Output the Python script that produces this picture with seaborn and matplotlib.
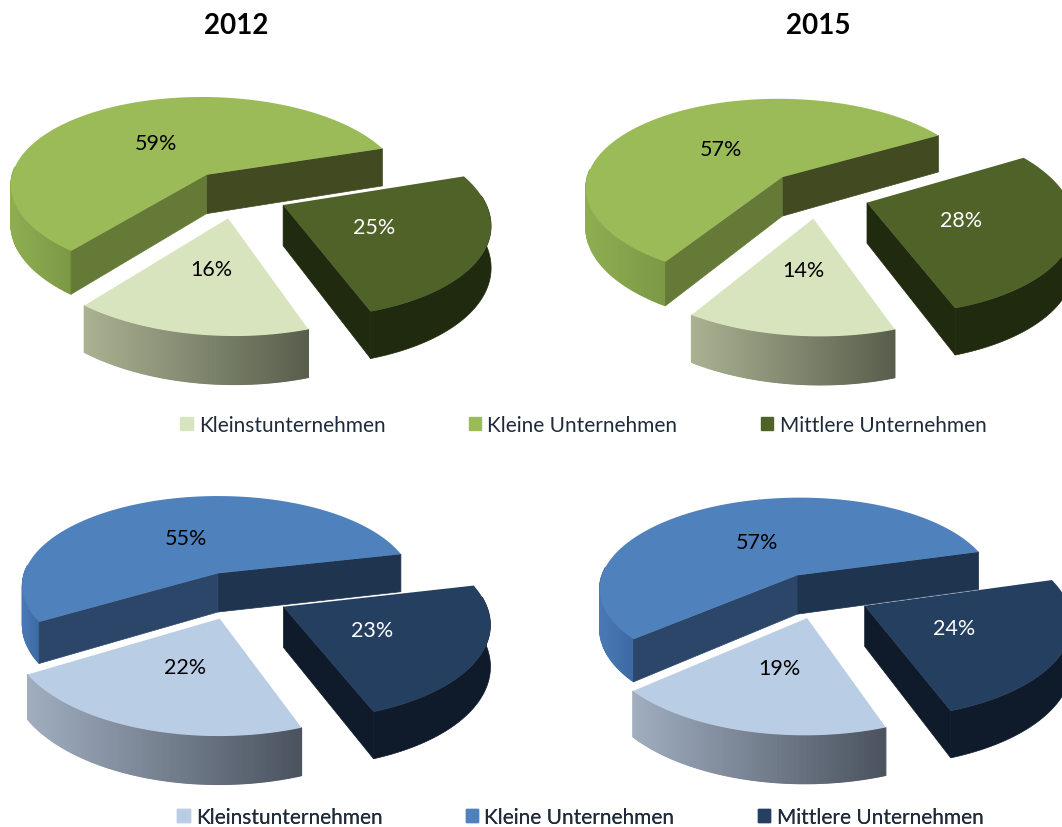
import numpy as np
import matplotlib
matplotlib.use("Agg")
import matplotlib.pyplot as plt
from matplotlib.colors import to_rgb
from matplotlib.patches import Patch
import seaborn as sns

sns.set_theme(style="white")
plt.rcParams['font.family'] = ['Lato', 'DejaVu Sans']

years = ["2012", "2015"]
categories = ["Kleinstunternehmen", "Kleine Unternehmen", "Mittlere Unternehmen"]
green_2012 = [16, 59, 25]
green_2015 = [14, 57, 28]
blue_2012 = [22, 55, 23]
blue_2015 = [19, 57, 24]

GREEN = dict(top=["#d7e4bd", "#9bbb59", "#4f6228"],
             wall=[("#aab292", "#585e4c"), ("#8fae52", "#7b9845"), ("#1f2a0f", "#1f2a0f")],
             radial=[None, ("#414a21", "#667a38"), ("#1f2a0f", None)])
BLUE = dict(top=["#b9cde5", "#4f81bd", "#243f60"],
            wall=[("#a0aec0", "#4a525e"), ("#4a7ab5", "#3c69a2"), ("#0f1a2a", "#0f1a2a")],
            radial=[None, ("#1f344f", "#2c4669"), ("#0f1a2a", None)])

KY, KX = 0.14, 0.14
RY, H = 93.7, 40


def project(px, py, cx, cy, rx, shear):
    sy = 1 / (1 + KY * py)
    sx = 1 / (1 + KX * py)
    return cx + rx * px * sx - shear * py, cy - RY * py * sy, sy


def draw_pie(ax, values, pal, cx, cy, start, d, rx, shear):
    total = sum(values)
    sweeps = [360 * v / total for v in values]
    spans = {1: (start, start + sweeps[1])}
    spans[0] = (spans[1][1], spans[1][1] + sweeps[0])
    spans[2] = (spans[0][1], spans[0][1] + sweeps[2])
    for i in (1, 2, 0):
        a0, a1 = spans[i]
        mid = np.radians((a0 + a1) / 2)
        ox, oy = d * np.cos(mid), d * np.sin(mid)
        th = np.radians(np.linspace(a0, a1, 181))
        px, py = ox + np.cos(th), oy + np.sin(th)
        x, y, s = project(px, py, cx, cy, rx, shear)
        ax0, ay0, as0 = project(ox, oy, cx, cy, rx, shear)
        # outer wall, only where it faces the viewer
        vis = np.where(np.sin(th) < 0.1)[0]
        c0, c1 = map(np.array, map(to_rgb, pal["wall"][i]))
        if pal["wall"][i][0] == pal["wall"][i][1]:
            ax.fill(np.r_[x[vis], x[vis][::-1]],
                    np.r_[y[vis], (y + H * s)[vis][::-1]],
                    color=c0, lw=0.5, zorder=1)
        else:
            xmin, xmax = x[vis].min(), x[vis].max()
            for j in vis[:-1]:
                f = (x[j] - xmin) / max(xmax - xmin, 1)
                col = c0 + (c1 - c0) * f
                ax.fill([x[j], x[j + 1], x[j + 1], x[j]],
                        [y[j], y[j + 1], y[j + 1] + H * s[j + 1], y[j] + H * s[j]],
                        color=col, lw=0.8, zorder=1)
        # radial walls that face the viewer
        rad = pal["radial"][i] or (None, None)
        for j, col in ((0, rad[0]), (-1, rad[1])):
            if col:
                ax.fill([ax0, x[j], x[j], ax0],
                        [ay0, y[j], y[j] + H * s[j], ay0 + H * as0],
                        color=col, lw=0.5, zorder=1)
        # top
        ax.fill(np.r_[ax0, x], np.r_[ay0, y], color=pal["top"][i], lw=0, zorder=1)
        r = d + 0.47
        lx, ly, _ = project(r * np.cos(mid), r * np.sin(mid), cx, cy, rx, shear)
        ax.text(lx, ly + 1, f"{values[i]}%", ha="center", va="center", fontsize=15.5,
                color="white" if i == 2 else "black", zorder=3)


fig = plt.figure(figsize=(10.62, 8.28), dpi=100)
ax = fig.add_axes([0, 0, 1, 1])
ax.set_xlim(0, 1062)
ax.set_ylim(828, 0)
ax.axis("off")

draw_pie(ax, green_2012, GREEN, 236, 195, 18, 0.255, 200, 8)
draw_pie(ax, green_2015, GREEN, 818, 195, 30, 0.255, 200, 8)
draw_pie(ax, blue_2012, BLUE, 237, 596, 13, 0.258, 200, 2)
draw_pie(ax, blue_2015, BLUE, 820, 596, 16, 0.246, 201, 0)

ax.text(236, 26, years[0], ha="center", va="center", fontsize=20, fontweight="bold", color="black")
ax.text(818, 26, years[1], ha="center", va="center", fontsize=20, fontweight="bold", color="black")

for pal, xa, ya in ((GREEN, 180, 426), (BLUE, 177, 818)):
    h = [Patch(color=c, label=l) for c, l in zip(pal["top"], categories)]
    leg = ax.legend(handles=h, ncol=3, loc="center left", bbox_to_anchor=(xa, ya),
                    bbox_transform=ax.transData, frameon=False, fontsize=15,
                    handlelength=0.6, handleheight=0.6, handletextpad=0.3,
                    columnspacing=4.0, borderpad=0, borderaxespad=0, labelcolor="#1f2a3a")
    ax.add_artist(leg)

fig.savefig("out.png", dpi=100)
